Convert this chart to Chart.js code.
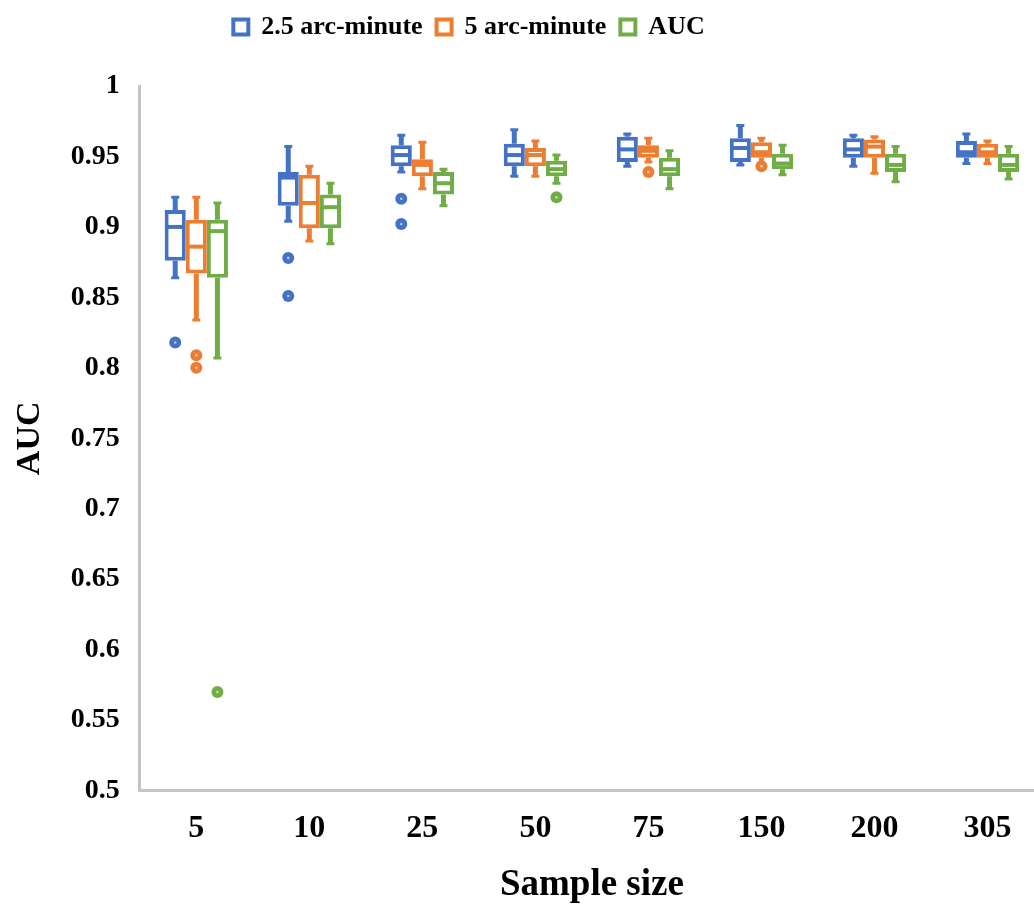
<!DOCTYPE html>
<html>
<head>
<meta charset="utf-8">
<script src="https://cdn.jsdelivr.net/npm/chart.js@4.4.1/dist/chart.umd.min.js"></script>
<style>
  html, body { margin: 0; padding: 0; background: #fff; overflow: hidden; }
  #wrap { width: 1044px; height: 904px; }
</style>
</head>
<body>
<div id="wrap"><canvas id="aucChart"></canvas></div>
<script>
// categories + tick labels
const sampleSizes = ["5", "10", "25", "50", "75", "150", "200", "305"];
const yTickValues = [0.5, 0.55, 0.6, 0.65, 0.7, 0.75, 0.8, 0.85, 0.9, 0.95, 1];
const yTickLabels = ["0.5", "0.55", "0.6", "0.65", "0.7", "0.75", "0.8", "0.85", "0.9", "0.95", "1"];

// each entry: [low whisker, q1, median, q3, high whisker]
const arc25 = [
  [0.864, 0.876, 0.900, 0.912, 0.921],
  [0.904, 0.915, 0.935, 0.939, 0.957],
  [0.939, 0.943, 0.951, 0.958, 0.965],
  [0.936, 0.943, 0.951, 0.959, 0.969],
  [0.943, 0.946, 0.955, 0.964, 0.966],
  [0.944, 0.946, 0.956, 0.963, 0.972],
  [0.943, 0.949, 0.955, 0.963, 0.965],
  [0.945, 0.949, 0.953, 0.961, 0.966]
];
const arc5 = [
  [0.834, 0.867, 0.886, 0.905, 0.921],
  [0.890, 0.899, 0.917, 0.937, 0.943],
  [0.927, 0.936, 0.944, 0.948, 0.960],
  [0.936, 0.943, 0.951, 0.956, 0.961],
  [0.946, 0.949, 0.954, 0.958, 0.963],
  [0.945, 0.949, 0.953, 0.960, 0.963],
  [0.938, 0.949, 0.957, 0.962, 0.964],
  [0.945, 0.949, 0.953, 0.959, 0.961]
];
const aucVals = [
  [0.807, 0.864, 0.897, 0.905, 0.917],
  [0.888, 0.899, 0.914, 0.923, 0.931],
  [0.915, 0.923, 0.931, 0.939, 0.941],
  [0.931, 0.936, 0.941, 0.947, 0.951],
  [0.927, 0.936, 0.941, 0.949, 0.954],
  [0.937, 0.941, 0.945, 0.952, 0.958],
  [0.932, 0.939, 0.944, 0.952, 0.957],
  [0.934, 0.939, 0.944, 0.952, 0.957]
];

// outlier points per category
const arc25Out = [[0.818], [0.878, 0.851], [0.920, 0.902], [], [], [], [], []];
const arc5Out = [[0.809, 0.800], [], [], [], [0.939], [0.943], [], []];
const aucOut = [[0.570], [], [], [0.921], [], [], [], []];

const BLUE = "#4472C4";
const ORANGE = "#ED7D31";
const GREEN = "#70AD47";
const AXIS_GREY = "#c4c4c4";
const FONT = "'Liberation Serif', 'Times New Roman', serif";

function boxDataset(label, color, stats, outliers) {
  return {
    label: label,
    data: stats.map(s => [s[1], s[3]]),   // floating bar = box q1..q3
    stats: stats,
    outliers: outliers,
    backgroundColor: "#ffffff",
    borderColor: color,
    borderWidth: 4,
    borderSkipped: false,
    categoryPercentage: 0.56,
    barPercentage: 1.0
  };
}

// whiskers, medians and outliers drawn with the chart's own scales
const boxPlotPlugin = {
  id: "boxPlot",
  beforeDatasetsDraw(chart) {
    const ctx = chart.ctx;
    const y = chart.scales.y;
    chart.data.datasets.forEach((ds, i) => {
      const meta = chart.getDatasetMeta(i);
      if (meta.hidden) return;
      ctx.save();
      ctx.strokeStyle = ds.borderColor;
      meta.data.forEach((bar, j) => {
        const s = ds.stats[j];
        ctx.lineWidth = 5;
        ctx.beginPath();
        ctx.moveTo(bar.x, y.getPixelForValue(s[0]));
        ctx.lineTo(bar.x, y.getPixelForValue(s[1]));
        ctx.moveTo(bar.x, y.getPixelForValue(s[3]));
        ctx.lineTo(bar.x, y.getPixelForValue(s[4]));
        ctx.stroke();
        // little end caps
        ctx.lineWidth = 3;
        ctx.beginPath();
        [s[0], s[4]].forEach(v => {
          const py = y.getPixelForValue(v);
          ctx.moveTo(bar.x - 4, py);
          ctx.lineTo(bar.x + 4, py);
        });
        ctx.stroke();
      });
      ctx.restore();
    });
  },
  afterDatasetsDraw(chart) {
    const ctx = chart.ctx;
    const y = chart.scales.y;
    chart.data.datasets.forEach((ds, i) => {
      const meta = chart.getDatasetMeta(i);
      if (meta.hidden) return;
      ctx.save();
      meta.data.forEach((bar, j) => {
        const s = ds.stats[j];
        const half = bar.width / 2 - 2;
        const my = y.getPixelForValue(s[2]);
        ctx.strokeStyle = ds.borderColor;
        ctx.lineWidth = 4;
        ctx.beginPath();
        ctx.moveTo(bar.x - half, my);
        ctx.lineTo(bar.x + half, my);
        ctx.stroke();

        ds.outliers[j].forEach(v => {
          const py = y.getPixelForValue(v);
          ctx.fillStyle = ds.borderColor;
          ctx.beginPath();
          ctx.arc(bar.x, py, 6, 0, Math.PI * 2);
          ctx.fill();
          ctx.fillStyle = "rgba(255,255,255,0.6)";
          ctx.beginPath();
          ctx.arc(bar.x, py, 1.3, 0, Math.PI * 2);
          ctx.fill();
        });
      });
      ctx.restore();
    });
  }
};

// legend in the original sits left of centre
const legendShift = {
  id: "legendShift",
  afterLayout(chart) {
    const lg = chart.legend;
    lg.right = lg.right - 112;
    lg.width = lg.right - lg.left;
  }
};

const ctx = document.getElementById("aucChart").getContext("2d");
const aucChart = new Chart(ctx, {
  type: "bar",
  data: {
    labels: sampleSizes,
    datasets: [
      boxDataset("2.5 arc-minute", BLUE, arc25, arc25Out),
      boxDataset("5 arc-minute", ORANGE, arc5, arc5Out),
      boxDataset("AUC", GREEN, aucVals, aucOut)
    ]
  },
  options: {
    responsive: true,
    maintainAspectRatio: false,
    animation: false,
    layout: { padding: { top: 0, left: 6, right: 0, bottom: 0 } },
    plugins: {
      tooltip: { enabled: false },
      legend: {
        position: "top",
        labels: {
          boxWidth: 15,
          boxHeight: 15,
          padding: 14,
          color: "#000",
          font: { family: FONT, size: 26, weight: "bold" }
        }
      },
      // empty spacer between legend and plot
      subtitle: {
        display: true,
        text: " ",
        weight: 500,
        font: { size: 10 },
        padding: { top: 0, bottom: 24 }
      }
    },
    scales: {
      x: {
        grid: { display: false, drawTicks: false },
        border: { display: true, color: AXIS_GREY, width: 3 },
        ticks: {
          padding: 19,
          color: "#000",
          font: { family: FONT, size: 32, weight: "bold" }
        },
        title: {
          display: true,
          text: "Sample size",
          color: "#000",
          padding: { top: 0, bottom: 0 },
          font: { family: FONT, size: 37, weight: "bold", lineHeight: 1 }
        }
      },
      y: {
        min: 0.5,
        max: 1,
        grid: { display: false, drawTicks: false },
        border: { display: true, color: AXIS_GREY, width: 3 },
        afterBuildTicks: (scale) => {
          scale.ticks = yTickValues.map(v => ({ value: v }));
        },
        ticks: {
          padding: 20,
          color: "#000",
          font: { family: FONT, size: 28, weight: "bold" },
          callback: (value, index) => yTickLabels[index]
        },
        title: {
          display: true,
          text: "AUC",
          color: "#000",
          padding: { top: 4, bottom: 0 },
          font: { family: FONT, size: 34, weight: "bold" }
        }
      }
    }
  },
  plugins: [boxPlotPlugin, legendShift]
});
</script>
</body>
</html>
